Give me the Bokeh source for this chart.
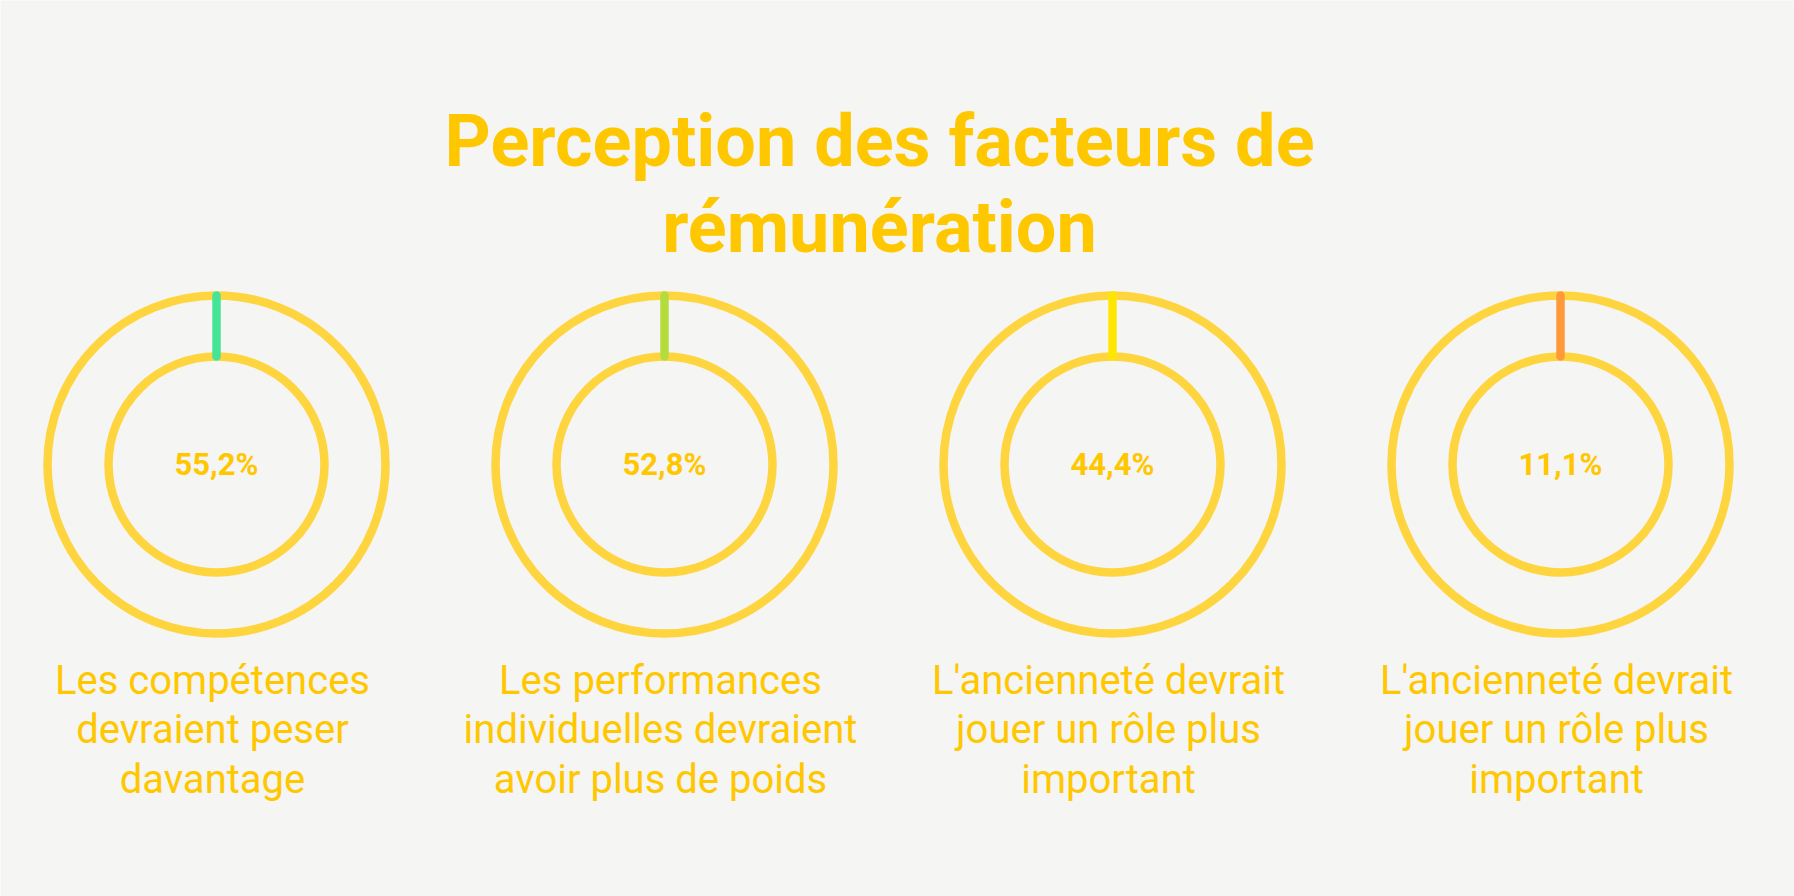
from bokeh.plotting import figure
from bokeh.models import Range1d, ColumnDataSource
from bokeh.core.properties import value
from bokeh.embed import file_html
from bokeh.resources import INLINE

# ---- data ----
title_lines = "Perception des facteurs de\nrémunération"
labels = [
    "Les compétences\ndevraient peser\ndavantage",
    "Les performances\nindividuelles devraient\navoir plus de poids",
    "L'ancienneté devrait\njouer un rôle plus\nimportant",
    "L'ancienneté devrait\njouer un rôle plus\nimportant",
]
values = [55.2, 52.8, 44.4, 11.1]
value_labels = ["55,2%", "52,8%", "44,4%", "11,1%"]
seg_colors = ["#47E396", "#B4DC3C", "#FFE600", "#FF993A"]

# ---- style / layout ----
W, H = 1794, 896
BG = "#F5F5F4"
RING = "#FED53F"
TXT = "#FFC700"
x0, dx = 216, 448
cy = 464
r_out, r_in = 169, 108

xs = [x0 + dx * i for i in range(len(values))]

p = figure(width=W, height=H, output_backend="svg", toolbar_location=None,
           x_range=Range1d(0, W), y_range=Range1d(H, 0),
           background_fill_color=BG, border_fill_color=BG,
           min_border=0, outline_line_color=None)
p.axis.visible = False
p.grid.visible = False

src = ColumnDataSource(dict(
    x=xs, y=[cy] * len(xs), lab=labels, val=value_labels, col=seg_colors,
    ro=[r_out] * len(xs), ri=[r_in] * len(xs),
    ytop=[cy - r_out] * len(xs), yin=[cy - r_in] * len(xs),
))

p.circle(x="x", y="y", radius="ro", source=src, fill_color=None,
         line_color=RING, line_width=8.5)
p.circle(x="x", y="y", radius="ri", source=src, fill_color=None,
         line_color=RING, line_width=8.5)
p.segment(x0="x", y0="ytop", x1="x", y1="yin", source=src,
          line_color="col", line_width=8.5, line_cap="round")

p.text(x="x", y="y", text="val", source=src, text_color=TXT,
       text_font=value("Roboto"), text_font_style="bold",
       text_font_size="31px", text_align="center", text_baseline="middle")

lab_src = ColumnDataSource(dict(x=[x - 4 for x in xs], y=[656] * len(xs), lab=labels))
p.text(x="x", y="y", text="lab", source=lab_src, text_color=TXT,
       text_font=value("Roboto"), text_font_size="40px",
       text_align="center", text_baseline="top", text_line_height=1.06)

p.text(x=[879], y=[98], text=[title_lines], text_color=TXT,
       text_font=value("Roboto"), text_font_style="bold",
       text_font_size="72px", text_align="center", text_baseline="top",
       text_line_height=1.02)

open("out.html", "w").write(file_html(p, INLINE))
